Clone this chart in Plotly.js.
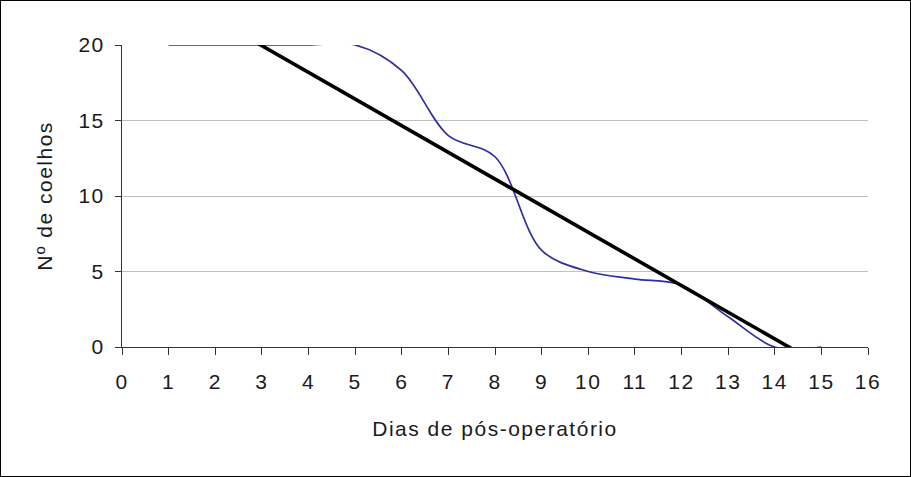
<!DOCTYPE html>
<html>
<head>
<meta charset="utf-8">
<script src="https://cdn.plot.ly/plotly-3.0.1.min.js"></script>
<style>
  html, body { margin: 0; padding: 0; background: #fff; }
  #wrap { position: relative; width: 911px; height: 477px; }
  #chart { width: 911px; height: 477px; }
  #frame { position: absolute; left: 0; top: 0; width: 909px; height: 475px;
           border: 1px solid #000; pointer-events: none; }
  .xtick text, .ytick text, .g-xtitle text, .g-ytitle text { letter-spacing: 1.5px; }
</style>
</head>
<body>
<div id="wrap">
  <div id="chart"></div>
  <div id="frame"></div>
</div>
<script>
// Days after surgery and number of rabbits
var days    = [1, 2, 3, 4, 5, 6, 7, 8, 9, 10, 11, 12, 13, 14, 15];
var rabbits = [20, 20, 20, 20, 20, 18.3, 14, 12.6, 6.4, 5.0, 4.5, 4.1, 2.0, 0, 0];
var xTickVals = [0, 1, 2, 3, 4, 5, 6, 7, 8, 9, 10, 11, 12, 13, 14, 15, 16];
var yTickVals = [0, 5, 10, 15, 20];
var xTitle = "Dias de pós-operatório";
var yTitle = "Nº de coelhos";

// Linear trendline (least squares) over the data
var n = days.length, sx = 0, sy = 0, sxx = 0, sxy = 0;
for (var i = 0; i < n; i++) {
  sx += days[i]; sy += rabbits[i];
  sxx += days[i] * days[i]; sxy += days[i] * rabbits[i];
}
var slope = (n * sxy - sx * sy) / (n * sxx - sx * sx);
var intercept = (sy - slope * sx) / n;
var trendX = [days[0], days[n - 1]];
var trendY = trendX.map(function (x) { return intercept + slope * x; });

var font = { family: "Liberation Sans, Arial, sans-serif", size: 21, color: "#1a1a1a" };

var traces = [
  {
    x: days, y: rabbits, type: "scatter", mode: "lines",
    line: { color: "#2e2e9e", width: 1.7, shape: "spline", smoothing: 0.95 },
    hoverinfo: "skip"
  },
  {
    x: trendX, y: trendY, type: "scatter", mode: "lines",
    line: { color: "#000000", width: 3.6 },
    hoverinfo: "skip"
  }
];

var layout = {
  width: 911, height: 477,
  margin: { l: 122, r: 43, t: 45, b: 130 },
  paper_bgcolor: "#ffffff", plot_bgcolor: "#ffffff",
  showlegend: false,
  font: font,
  xaxis: {
    range: [0, 16], tickvals: xTickVals, ticktext: xTickVals.map(String),
    showgrid: false, zeroline: false,
    showline: true, linecolor: "#333333", linewidth: 1,
    ticks: "outside", ticklen: 7, tickcolor: "#333333", tickwidth: 1,
    ticklabelstandoff: 9,
    tickfont: font,
    title: { text: xTitle, font: font, standoff: 29 }
  },
  yaxis: {
    range: [0, 20], tickvals: yTickVals, ticktext: yTickVals.map(String),
    showgrid: true, gridcolor: "#c0c0c0", gridwidth: 1,
    zeroline: false,
    showline: true, linecolor: "#333333", linewidth: 1,
    ticks: "outside", ticklen: 6, tickcolor: "#333333", tickwidth: 1,
    ticklabelstandoff: 6,
    tickfont: font,
    title: { text: yTitle, font: font, standoff: 20 }
  }
};

Plotly.newPlot("chart", traces, layout, { staticPlot: true, displayModeBar: false });
</script>
</body>
</html>
